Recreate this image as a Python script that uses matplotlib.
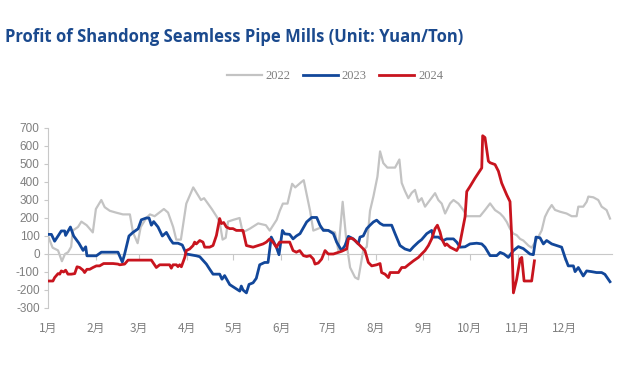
import matplotlib
matplotlib.use("Agg")
import matplotlib.pyplot as plt
from matplotlib.lines import Line2D

# day of year -> profit (yuan/ton)
days_2022 = [0, 3, 6.5, 9, 11, 13, 15, 16, 19.4, 21.6, 25, 27, 29, 31, 34.5, 36.7, 40, 44, 48.5, 53,
             55, 58, 60, 63.6, 66, 69, 72, 75, 77.7, 81, 83, 86, 89.5, 94, 99, 101, 106, 109, 111,
             113, 115, 116.5, 120, 124, 126, 130.5, 136, 141, 143.5, 148, 150, 152, 155, 158, 160,
             164, 165.5, 169.6, 171.7, 176, 185.7, 187.9, 190.7, 193.3, 195.5, 198.7, 200.8, 204,
             206.3, 208.4, 210.6, 213.2, 214.9, 217, 219.6, 224.6, 227.4, 228.9, 231, 233.2, 235.4,
             237.5, 239.7, 241.8, 244, 247.2, 250.5, 252.6, 254.8, 257, 260.2, 262.4, 265.6, 268.8,
             271, 275.3, 279.6, 282.8, 286.1, 289.3, 292.6, 294.7, 296.9, 299, 301.2, 303.3, 305.5,
             307.6, 310.9, 313, 315.2, 317.3, 319.5, 321.6, 323.8, 326, 328.1, 331.3, 335.6, 338.9,
             342.1, 343.2, 346.4, 348.6, 349.7, 352.9, 356.1, 358.3, 361.5, 363.7]
vals_2022 = [100, 35, 20, -40, 0, 10, 40, 130, 150, 180, 160, 140, 120, 250, 300, 260, 240, 230, 220, 220,
             120, 60, 150, 200, 220, 210, 230, 250, 230, 150, 80, 80, 280, 370, 300, 310, 250, 210, 180,
             80, 90, 180, 190, 200, 120, 140, 170, 160, 130, 190, 240, 280, 280, 390, 370,
             400, 410, 240, 130, 145, 120, 20, 290, 55, -75, -130, -140, 20,
             40, 240, 320, 430, 570, 505, 480, 480, 525, 395, 350, 310, 340,
             356, 290, 310, 263, 300, 338, 300, 280, 225, 281, 300, 280, 244,
             210, 210, 210, 244, 281, 244, 225, 206, 178, 140, 113, 105, 84,
             75, 47, 35, 65, 95, 131, 206, 244, 272, 245, 235, 225, 210,
             210, 263, 263, 290, 319, 315, 300, 263, 244, 197]

days_2023 = [0, 2.2, 4.3, 6.5, 8.6, 10.8, 11.4, 14.5, 16.6, 20, 22.7, 24.4, 25.2, 31.3, 34.5, 45.3,
             48.1, 49.6, 52.4, 55, 58.3, 60.4, 63.6, 65.4, 66.9, 68.4, 71.2, 74, 76.6, 79.2, 80.9,
             84.1, 86.9, 89.5, 96, 98.2, 102.5, 104.6, 106.8, 111.1, 112.6, 114.3, 117.6, 120.8,
             124.1, 125.1, 126.2, 128.4, 130.1, 132.7, 134.8, 137, 140.2, 142.4, 144.5, 147.8,
             149.5, 151.7, 153.2, 156.4, 158.6, 160.7, 163.1, 167.4, 170.7, 173.9, 176, 178.2,
             181.4, 184.7, 186.8, 190, 192.2, 194.4, 197.6, 200.8, 201.9, 204, 206.3, 208.4, 210.6,
             212.7, 214.9, 217, 219.2, 222.4, 224.6, 227.8, 231, 234.3, 236.5, 239.7, 241.8, 245.1,
             248.3, 249.4, 252.6, 255.9, 258, 262.4, 264.5, 266.7, 269.9, 273.1, 277.4, 280.7,
             282.8, 286.1, 290.4, 292.6, 295.1, 297.9, 301.2, 304.4, 307.6, 311.9, 314.1, 315.8,
             318.4, 320.6, 322.7, 326, 329.2, 332.4, 334.6, 336.7, 340, 341.1, 343.2, 346.4, 348.6,
             351.8, 355, 358.3, 360.4, 363.7]
vals_2023 = [109, 109, 71, 100, 128, 128, 103, 150, 100, 60, 20, 40, -10, -10, 10, 10,
             -45, 0, 100, 120, 140, 190, 200, 200, 160, 180, 150, 100, 120, 80, 60,
             60, 50, 0, -10, -15, -56, -84, -112, -112, -140, -120, -170, -188,
             -206, -178, -200, -216, -169, -160, -135, -60, -47, -47, 94, 38,
             -4, 131, 112, 109, 84, 100, 113, 178, 203, 203, 160, 131,
             131, 113, 66, 19, 47, 98, 84, 56, 94, 100, 141, 160, 178,
             188, 170, 160, 160, 160, 113, 47, 28, 19, 40, 66, 80, 113,
             131, 94, 94, 75, 84, 84, 66, 38, 40, 56, 60, 56,
             38, -9, -9, 9, 0, -19, 19, 41, 30, 0, -4, 94,
             90, 56, 75, 56, 47, 38, -19, -66, -66, -98, -75, -122, -94,
             -98, -103, -103, -113, -154]

days_2024 = [0, 3.2, 4.3, 6.5, 7.6, 8.6, 10.1, 11.4, 12.9, 15.1, 17.3, 18.8, 20.5, 22.7, 23.7, 25.2,
             27, 29.1, 31.3, 33.4, 36, 42.1, 45.3, 46.4, 49.6, 51.8, 55, 66.9, 70.1, 72.3, 74.4, 78.7,
             79.8, 80.9, 83.1, 84.1, 85.2, 86.3, 88.5, 89.5, 91.7, 93.9, 94.9, 96, 98.2, 100.3,
             101.4, 104.6, 106.8, 109, 111.1, 112.2, 113.7, 115.4, 117.6, 119.7, 121.9, 126.2,
             128.4, 132.7, 135.9, 139.2, 141.3, 143.5, 145.6, 147.8, 149.9, 152.1, 156.4, 158.6,
             160.7, 162.9, 165.3, 167.4, 169.6, 171.7, 172.8, 174.9, 177.1, 179.3, 181.4, 184.7,
             187.9, 190, 193.3, 194.4, 196.5, 198.7, 201.9, 205.1, 207.3, 209.5, 212.7, 214.9,
             215.9, 218.1, 220.3, 221.4, 223.5, 226.8, 228.9, 231.1, 233.2, 236.5, 239.7, 241.8,
             244, 246.2, 248.3, 250.5, 252, 253.7, 254.8, 257, 258, 260.2, 262.4, 264.5, 266.3,
             267.8, 269.9, 271, 273.1, 276.4, 280.7, 281.3, 282.8, 285, 286.1, 289.3, 291.5, 293.6,
             296.9, 299, 300.1, 301.2, 303.3, 305.5, 306.6, 308.1, 309.8, 313, 314.8]
vals_2024 = [-150, -150, -131, -109, -112, -94, -100, -90, -112, -112, -109, -71, -75, -90, -103, -85,
             -85, -75, -66, -66, -53, -53, -56, -60, -56, -34, -34, -34, -75, -60, -60, -60,
             -79, -60, -60, -70, -60, -71, -19, 19, 28, 47, 66, 56, 75, 66,
             38, 38, 47, 103, 197, 169, 175, 150, 141, 141, 131, 131,
             47, 38, 47, 56, 66, 84, 66, 38, 66, 66, 66, 19,
             10, 19, -9, -14, -9, -28, -56, -50, -28, 19, 0, 0,
             9, 15, 28, 84, 88, 75, 47, 19, -47, -66, -60, -53,
             -103, -112, -131, -103, -103, -103, -75, -75, -60, -38, -19, 0,
             19, 47, 84, 141, 160, 122, 84, 47, 56, 38, 28, 19, 47,
             113, 206, 347, 375, 422, 478, 657, 647, 516, 507, 497, 460, 394,
             328, 291, 94, -216, -141, -28, -19, -150, -150, -150, -38]

month_days = [0, 31, 59, 90, 120, 151, 181, 212, 243, 273, 304, 334]
month_labels = ["1月", "2月", "3月", "4月", "5月", "6月", "7月", "8月", "9月", "10月", "11月", "12月"]
y_ticks = list(range(-300, 701, 100))

c22 = "#C3C3C3"
c23 = "#12479A"
c24 = "#C8141E"
grid_c = "#C8C8C8"
text_c = "#7F7F7F"

fig = plt.figure(figsize=(6.22, 3.74), dpi=100)
ax = fig.add_axes([48 / 622, 1 - 308 / 374, 564 / 622, 180 / 374])

ax.plot(days_2022, vals_2022, color=c22, lw=1.6, zorder=2)
ax.plot(days_2023, vals_2023, color=c23, lw=2.0, zorder=3)
ax.plot(days_2024, vals_2024, color=c24, lw=2.0, zorder=4)

ax.set_xlim(0, 365)
ax.set_ylim(-300, 700)
ax.set_yticks(y_ticks)
ax.set_yticklabels([str(v) for v in y_ticks], family="Liberation Sans", fontsize=8.5, color=text_c)
ax.tick_params(axis="y", direction="out", length=3, width=0.8, color=grid_c, pad=3)

for s in ["top", "right"]:
    ax.spines[s].set_visible(False)
ax.spines["left"].set_color(grid_c)
ax.spines["bottom"].set_position(("data", 0))
ax.spines["bottom"].set_color(grid_c)
ax.set_xticks(month_days)
ax.tick_params(axis="x", direction="out", length=4, width=0.8, color=grid_c, labelbottom=False)

sec = ax.secondary_xaxis(0)
sec.set_xticks(month_days)
sec.set_xticklabels(month_labels, family=["Noto Sans CJK SC", "DejaVu Sans"], fontsize=8.5, color=text_c)
sec.tick_params(length=0, pad=10)
sec.spines["bottom"].set_visible(False)

fig.text(5 / 622, 1 - 37 / 374, "Profit of Shandong Seamless Pipe Mills (Unit: Yuan/Ton)",
         family="Open Sans", fontweight="bold", fontsize=12, color="#1B4A8E", va="center")

handles = [Line2D([], [], color=c22, lw=1.6), Line2D([], [], color=c23, lw=2.0),
           Line2D([], [], color=c24, lw=2.0)]
fig.legend(handles, ["2022", "2023", "2024"], loc="center", bbox_to_anchor=(335 / 622, 1 - 76 / 374),
           ncol=3, frameon=False, handlelength=2.8, handletextpad=0.3, columnspacing=1.0,
           prop={"family": "Liberation Serif", "size": 9}, labelcolor=text_c)

fig.savefig("out.png", dpi=100)
